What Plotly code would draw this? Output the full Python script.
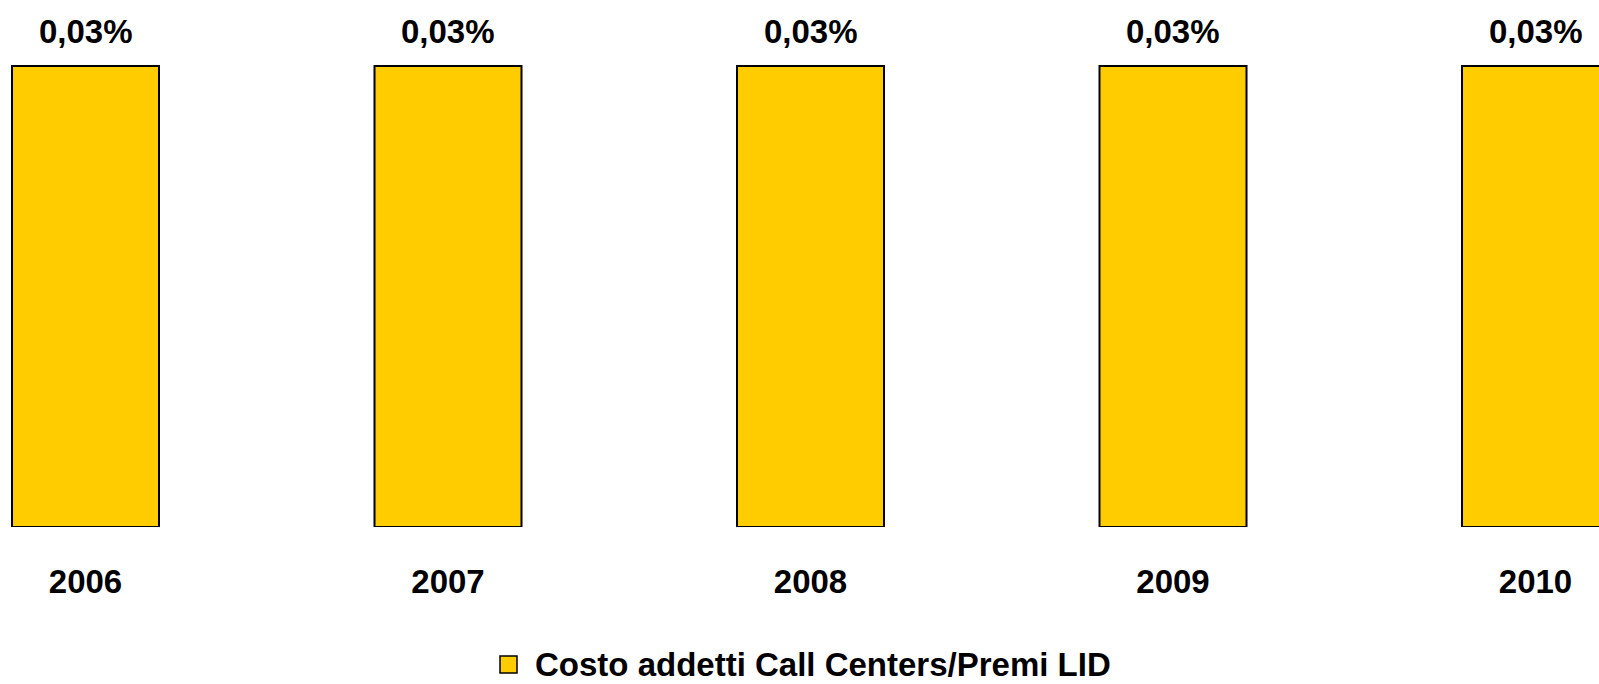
import plotly.graph_objects as go

years = ["2006", "2007", "2008", "2009", "2010"]
values = [0.03, 0.03, 0.03, 0.03, 0.03]
labels = ["0,03%", "0,03%", "0,03%", "0,03%", "0,03%"]
series_name = "Costo addetti Call Centers/Premi LID"

W, H = 1599, 684
plot_bottom = 527
bar_top = 66
px_per_cat = 362.5
first_center = 85.5
FONT = "Liberation Sans, Arial, sans-serif"
BAR_COLOR = "#FFCC00"

x0 = -first_center / px_per_cat
x1 = x0 + W / px_per_cat
ymax = max(values) * plot_bottom / (plot_bottom - bar_top)
xs = list(range(len(years)))


def py(pix):
    """pixel row (from top) -> paper y relative to the plot area"""
    return (plot_bottom - pix) / plot_bottom


fig = go.Figure()
fig.add_trace(go.Bar(
    x=xs,
    y=values,
    name=series_name,
    width=147 / px_per_cat,
    marker=dict(color=BAR_COLOR, line=dict(color="#000000", width=2)),
    showlegend=False,
))

for xi, v, lab in zip(xs, values, labels):
    fig.add_annotation(
        x=xi, y=v, text=lab, showarrow=False,
        xanchor="center", yanchor="middle", yshift=35,
        font=dict(family=FONT, size=33, color="#000000", weight="bold"),
    )

# legend: swatch + text
fig.add_shape(
    type="rect", xref="paper", yref="paper",
    x0=500 / W, x1=517 / W, y0=py(673), y1=py(656),
    fillcolor=BAR_COLOR, line=dict(color="#000000", width=1.5),
)
fig.add_annotation(
    xref="paper", yref="paper", x=533 / W, y=py(664),
    xanchor="left", yanchor="middle", showarrow=False,
    text=series_name,
    font=dict(family=FONT, size=33, color="#000000", weight="bold"),
)

fig.update_layout(
    width=W, height=H,
    margin=dict(l=0, r=0, t=0, b=H - plot_bottom, pad=0, autoexpand=False),
    paper_bgcolor="white",
    plot_bgcolor="white",
    font=dict(family=FONT, color="#000000"),
    showlegend=False,
    xaxis=dict(
        range=[x0, x1],
        tickmode="array",
        tickvals=xs,
        ticktext=years,
        tickfont=dict(size=33, weight="bold"),
        showgrid=False, zeroline=False, showline=False,
        ticks="", ticklabelstandoff=32,
    ),
    yaxis=dict(range=[0, ymax], visible=False),
)

fig.write_html("out.html")
